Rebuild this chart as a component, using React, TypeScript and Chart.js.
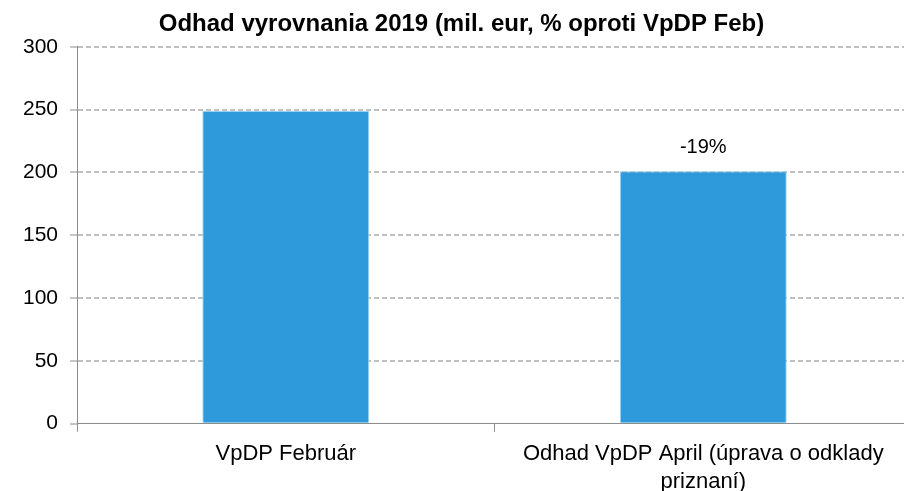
import React, { useEffect, useRef } from "react";
import { Chart, registerables } from "chart.js";

Chart.register(...registerables);

const categories: (string | string[])[] = [
  "VpDP Február",
  ["Odhad VpDP April (úprava o odklady", "priznaní)"],
];
const values: number[] = [249, 201];
const valueLabels: string[] = ["", "-19%"];
const yTicks: number[] = [0, 50, 100, 150, 200, 250, 300];
const titleText = "Odhad vyrovnania 2019 (mil. eur, % oproti VpDP Feb)";

const labelPlugin = {
  id: "valueLabels",
  afterDatasetsDraw(chart: any) {
    const ctx = chart.ctx;
    const meta = chart.getDatasetMeta(0);
    ctx.save();
    ctx.font = "20px 'Liberation Sans', Arial, sans-serif";
    ctx.fillStyle = "#000";
    ctx.textAlign = "center";
    ctx.textBaseline = "alphabetic";
    meta.data.forEach((bar: any, i: number) => {
      const t = valueLabels[i];
      if (t) ctx.fillText(t, bar.x, bar.y - 18);
    });
    ctx.restore();
  },
};

export default function App() {
  const ref = useRef<HTMLCanvasElement>(null);
  useEffect(() => {
    if (!ref.current) return;
    const chart = new Chart(ref.current, {
      type: "bar",
      data: {
        labels: categories,
        datasets: [
          {
            data: values,
            backgroundColor: "#2e9adc",
            borderColor: "#a9d6f2",
            borderWidth: { left: 1, right: 1, top: 1, bottom: 0 },
            categoryPercentage: 0.8,
            barPercentage: 0.5,
          },
        ],
      },
      options: {
        responsive: false,
        animation: false,
        layout: { padding: { left: 11, right: 0, top: 0, bottom: 0 } },
        plugins: {
          legend: { display: false },
          tooltip: { enabled: false },
          title: {
            display: true,
            text: titleText,
            color: "#000",
            font: { family: "'Liberation Sans', Arial, sans-serif", size: 24, weight: "bold" },
            padding: { top: 10, bottom: 8 },
          },
        },
        scales: {
          x: {
            offset: true,
            grid: {
              display: true,
              offset: true,
              drawOnChartArea: false,
              drawTicks: true,
              tickLength: 8,
              tickColor: "#8c8c8c",
            },
            border: { display: true, color: "#8c8c8c", width: 1 },
            ticks: {
              color: "#000",
              font: { family: "'Liberation Sans', Arial, sans-serif", size: 22, lineHeight: 1.28 },
              padding: 8,
              maxRotation: 0,
              autoSkip: false,
            },
          },
          y: {
            min: 0,
            max: 300,
            afterBuildTicks: (scale: any) => {
              scale.ticks = yTicks.map((v) => ({ value: v }));
            },
            grid: {
              color: (c: any) => (c.tick && c.tick.value === 0 ? "rgba(0,0,0,0)" : "#c0c0c0"),
              lineWidth: 2,
              tickColor: "#8c8c8c",
              tickLength: 7,
              tickWidth: 1,
              tickBorderDash: [],
            } as any,
            border: { display: true, color: "#8c8c8c", width: 1, dash: [5, 3] } as any,
            ticks: {
              color: "#000",
              font: { family: "'Liberation Sans', Arial, sans-serif", size: 21 },
              padding: 12,
            },
          },
        },
      },
      plugins: [labelPlugin],
    });
    return () => chart.destroy();
  }, []);
  return (
    <div style={{ position: "fixed", left: 0, top: 0, width: 904, height: 491, overflow: "hidden", background: "#fff" }}>
      <canvas ref={ref} width={912} height={504} style={{ display: "block" }} />
    </div>
  );
}
